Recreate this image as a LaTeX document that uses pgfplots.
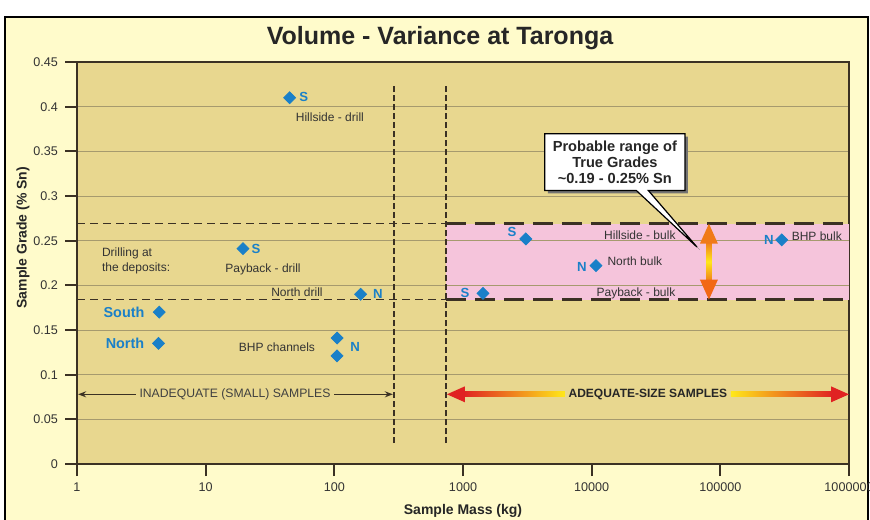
\documentclass[border=0pt]{standalone}
\usepackage{pgfplots}
\pgfplotsset{compat=1.18}
\usepackage{fontspec}
\setmainfont{Liberation Sans}
\usetikzlibrary{shapes.callouts,shadows,arrows.meta}

\definecolor{outerbg}{HTML}{FFFBCB}
\definecolor{plotbg}{HTML}{E8D78F}
\definecolor{pinkband}{HTML}{F5C4DB}
\definecolor{markblue}{HTML}{1A80C8}
\definecolor{gridcol}{HTML}{A69A6E}
\definecolor{darkline}{HTML}{3B3124}
\definecolor{arrowred}{HTML}{E02222}
\definecolor{arrowyel}{HTML}{FFE81A}
\definecolor{arroworg}{HTML}{F07A18}

\newcommand{\fs}[1]{\fontsize{#1}{#1}\selectfont}

\begin{document}
\begin{tikzpicture}
\useasboundingbox (0,0) rectangle (435pt,259.5pt);
\fill[white] (0,0) rectangle (435pt,259.5pt);
\begin{scope}
  \clip (0,0) rectangle (435pt,259.5pt);
  \filldraw[fill=outerbg, draw=black, line width=0.8pt] (2.5pt,-5pt) rectangle (434pt,251pt);
\end{scope}
\node[font=\bfseries\fs{12.5}, text=black!85] at (220pt,240.5pt) {Volume - Variance at Taronga};

\begin{axis}[
    at={(38.5pt,27.5pt)}, anchor=south west,
    scale only axis, width=386pt, height=201pt,
    xmode=log, xmin=1, xmax=1000000,
    ymin=0, ymax=0.45,
    xtick={1,10,100,1000,10000,100000,1000000},
    xticklabels={1,10,100,1000,10000,100000,1000000},
    ytick={0,0.05,0.1,0.15,0.2,0.25,0.3,0.35,0.4,0.45},
    yticklabels={0,0.05,0.1,0.15,0.2,0.25,0.3,0.35,0.4,0.45},
    xminorticks=false,
    tick pos=left, tick align=outside, major tick length=6pt,
    tick style={line width=0.9pt, color=darkline},
    ymajorgrids, grid style={color=gridcol, line width=0.4pt},
    axis background/.style={fill=plotbg},
    axis line style={draw=darkline, line width=1pt},
    ticklabel style={font=\fs{6.3}, text=black!80},
    /pgf/number format/assume math mode=true,
    xlabel={Sample Mass (kg)},
    ylabel={Sample Grade (\% Sn)},
    label style={font=\bfseries\fs{7}, text=black!85},
    xlabel style={at={(axis description cs:0.5,-0.117)}, anchor=center},
    ylabel style={at={(axis description cs:-0.07,0.563)}, anchor=center},
    clip=false,
]

% range of true grades (pink band)
\addplot[fill=pinkband, draw=none] coordinates {(736,0.184) (1000000,0.184) (1000000,0.269) (736,0.269)} -- cycle;
\addplot[gridcol, line width=0.4pt] coordinates {(736,0.2) (1000000,0.2)};
\addplot[gridcol, line width=0.4pt] coordinates {(736,0.25) (1000000,0.25)};

% dashed limits
\addplot[darkline, line width=0.8pt, dash pattern=on 4pt off 2.5pt] coordinates {(1,0.269) (736,0.269)};
\addplot[darkline, line width=0.8pt, dash pattern=on 4pt off 2.5pt] coordinates {(1,0.184) (736,0.184)};
\addplot[darkline, line width=1.3pt, dash pattern=on 10pt off 4.5pt] coordinates {(736,0.269) (1000000,0.269)};
\addplot[darkline, line width=1.3pt, dash pattern=on 10pt off 4.5pt] coordinates {(736,0.184) (1000000,0.184)};
\addplot[darkline, line width=0.7pt, dash pattern=on 3pt off 1.5pt] coordinates {(290,0.0235) (290,0.423)};
\addplot[darkline, line width=0.7pt, dash pattern=on 3pt off 1.5pt] coordinates {(736,0.0235) (736,0.423)};

% samples
\addplot[only marks, mark=square*, mark size=2.1pt, mark options={rotate=45}, color=markblue] coordinates {
    (45,0.41) (19.5,0.241) (160,0.19) (4.35,0.17) (4.3,0.135)
    (105,0.141) (105,0.121)
    (3080,0.252) (10800,0.222) (1430,0.191) (300000,0.251)
};

% inadequate samples arrow
\draw[darkline, line width=0.8pt, {Stealth[length=4pt,width=3pt]}-{Stealth[length=4pt,width=3pt]}]
    (axis cs:1.02,0.078) -- (axis cs:285,0.078);
\node[fill=plotbg, inner xsep=2pt, inner ysep=1pt, font=\fs{6.1}, text=black!75] at (axis cs:16.9,0.078) {INADEQUATE (SMALL) SAMPLES};

% adequate samples arrow
\shade[left color=arrowred, right color=arrowyel] ([xshift=8pt,yshift=1.3pt]axis cs:750,0.078) rectangle ([yshift=-1.3pt]axis cs:6190,0.078);
\fill[arrowred] (axis cs:750,0.078) -- ([xshift=9pt,yshift=4pt]axis cs:750,0.078) -- ([xshift=9pt,yshift=-4pt]axis cs:750,0.078) -- cycle;
\shade[left color=arrowyel, right color=arrowred] ([yshift=1.3pt]axis cs:120700,0.078) rectangle ([xshift=-8pt,yshift=-1.3pt]axis cs:1000000,0.078);
\fill[arrowred] (axis cs:1000000,0.078) -- ([xshift=-9pt,yshift=4pt]axis cs:1000000,0.078) -- ([xshift=-9pt,yshift=-4pt]axis cs:1000000,0.078) -- cycle;
\node[font=\bfseries\fs{6}, text=black!85] at (axis cs:27340,0.078) {ADEQUATE-SIZE SAMPLES};

% vertical range arrow
\shade[top color=arroworg, bottom color=arroworg, middle color=arrowyel]
    ([xshift=-1.3pt,yshift=-9pt]axis cs:81500,0.269) rectangle ([xshift=1.3pt,yshift=9pt]axis cs:81500,0.184);
\fill[arroworg] (axis cs:81500,0.269) -- ([xshift=-4.5pt,yshift=-10pt]axis cs:81500,0.269) -- ([xshift=4.5pt,yshift=-10pt]axis cs:81500,0.269) -- cycle;
\fill[arroworg!85!red] (axis cs:81500,0.184) -- ([xshift=-4.5pt,yshift=10pt]axis cs:81500,0.184) -- ([xshift=4.5pt,yshift=10pt]axis cs:81500,0.184) -- cycle;

% callout
\node[rectangle callout, draw=black, line width=0.6pt, fill=white,
      drop shadow={shadow xshift=1.5pt, shadow yshift=-1.5pt, fill=black!55, opacity=1},
      callout absolute pointer={(axis cs:65700,0.243)}, callout pointer width=6pt,
      align=center, font=\bfseries\fs{7.3}, text=black!85,
      inner xsep=4pt, inner ysep=3.5pt, execute at begin node=\setlength{\baselineskip}{8pt}]
    at (axis cs:15140,0.338) {Probable range of\\True Grades\\\textasciitilde 0.19 - 0.25\% Sn};

% sample labels
\begin{scope}[every node/.style={font=\fs{6}, text=black!80}]
\node at (axis cs:92.4,0.388) {Hillside - drill};
\node[anchor=west, align=left, font=\fs{6}\setlength{\baselineskip}{7.5pt}] at (axis cs:1.38,0.227) {Drilling at\\the deposits:};
\node at (axis cs:27.9,0.218) {Payback - drill};
\node at (axis cs:51.2,0.1925) {North drill};
\node at (axis cs:35.8,0.131) {BHP channels};
\node at (axis cs:23680,0.2563) {Hillside - bulk};
\node at (axis cs:21670,0.227) {North bulk};
\node at (axis cs:22100,0.1914) {Payback - bulk};
\node at (axis cs:562000,0.255) {BHP bulk};
\end{scope}

\begin{scope}[every node/.style={font=\bfseries\fs{6.6}, text=markblue}]
\node at (axis cs:58,0.411) {S};
\node at (axis cs:24.6,0.241) {S};
\node at (axis cs:218,0.19) {N};
\node[font=\bfseries\fs{7.2}] at (axis cs:2.32,0.17) {South};
\node[font=\bfseries\fs{7.2}] at (axis cs:2.36,0.135) {North};
\node at (axis cs:145,0.131) {N};
\node at (axis cs:2400,0.26) {S};
\node at (axis cs:8390,0.2205) {N};
\node at (axis cs:1035,0.191) {S};
\node at (axis cs:238000,0.251) {N};
\end{scope}

\end{axis}
\end{tikzpicture}
\end{document}
